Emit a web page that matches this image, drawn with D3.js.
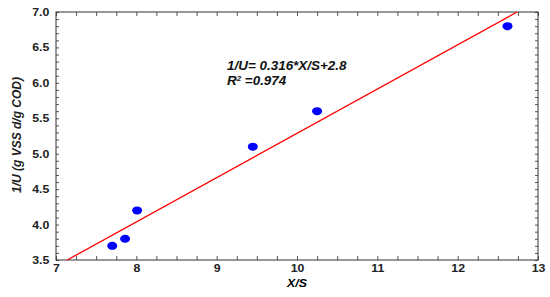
<!DOCTYPE html>
<html>
<head>
<meta charset="utf-8">
<script src="https://cdn.jsdelivr.net/npm/d3@7"></script>
<style>
  body { margin: 0; background: #fff; }
  text { font-family: "Liberation Sans", Arial, sans-serif; }
</style>
</head>
<body>
<div id="chart"></div>
<script>
// data
const xs = [7.70, 7.86, 8.01, 9.45, 10.25, 12.62];
const ys = [3.70, 3.80, 4.20, 5.10, 5.60, 6.80];
const fitX = [7.14, 12.74];
const fitY = [3.5, 7.0];
const xTicks = [7, 8, 9, 10, 11, 12, 13];
const yTicks = [3.5, 4.0, 4.5, 5.0, 5.5, 6.0, 6.5, 7.0];

const W = 550, H = 297;
const margin = { top: 12, right: 12, bottom: 37, left: 56 };
const width = W - margin.left - margin.right;
const height = H - margin.top - margin.bottom;
const stretch = 1.12; // the picture is a bit wider than tall

const svg = d3.select("#chart").append("svg")
  .attr("width", W).attr("height", H);
const g = svg.append("g").attr("transform", `translate(${margin.left},${margin.top})`);

const x = d3.scaleLinear().domain([7, 13]).range([0, width]);
const y = d3.scaleLinear().domain([3.5, 7.0]).range([height, 0]);

const xMinor = d3.range(7, 13.001, 0.25);
const yMinor = d3.range(3.5, 7.001, 0.1);

// bottom labels
g.append("g").attr("transform", `translate(0,${height})`)
  .call(d3.axisBottom(x).tickValues(xTicks).tickFormat(d3.format("d")).tickSizeInner(0).tickSizeOuter(0).tickPadding(4))
  .call(a => a.select(".domain").remove())
  .selectAll("text")
    .style("font-size", "11px").style("font-weight", "bold").attr("fill", "#222")
    .attr("transform", `scale(${stretch},1)`);

// minor ticks on all four sides, pointing inward
g.append("g").attr("transform", `translate(0,${height})`)
  .call(d3.axisBottom(x).tickValues(xMinor).tickFormat("").tickSizeInner(-4).tickSizeOuter(0))
  .call(a => a.select(".domain").remove())
  .selectAll("line").attr("stroke", "#555");
g.append("g")
  .call(d3.axisTop(x).tickValues(xMinor).tickFormat("").tickSizeInner(-4).tickSizeOuter(0))
  .call(a => a.select(".domain").remove())
  .selectAll("line").attr("stroke", "#555");

// left labels
g.append("g")
  .call(d3.axisLeft(y).tickValues(yTicks).tickFormat(d3.format(".1f")).tickSizeInner(0).tickSizeOuter(0).tickPadding(6))
  .call(a => a.select(".domain").remove())
  .selectAll("text")
    .style("font-size", "11px").style("font-weight", "bold").attr("fill", "#222")
    .attr("transform", `scale(${stretch},1)`);

g.append("g")
  .call(d3.axisLeft(y).tickValues(yMinor).tickFormat("").tickSizeInner(-3).tickSizeOuter(0))
  .call(a => a.select(".domain").remove())
  .selectAll("line").attr("stroke", "#555");
g.append("g").attr("transform", `translate(${width},0)`)
  .call(d3.axisRight(y).tickValues(yMinor).tickFormat("").tickSizeInner(-3).tickSizeOuter(0))
  .call(a => a.select(".domain").remove())
  .selectAll("line").attr("stroke", "#555");

// frame
g.append("rect")
  .attr("width", width).attr("height", height)
  .attr("fill", "none").attr("stroke", "#333").attr("stroke-width", 1);

// fitted line
const fit = fitX.map((d, i) => [d, fitY[i]]);
g.append("path")
  .datum(fit)
  .attr("fill", "none")
  .attr("stroke", "#ff0000")
  .attr("stroke-width", 1.3)
  .attr("d", d3.line().x(d => x(d[0])).y(d => y(d[1])));

// points
g.selectAll(".pt")
  .data(xs.map((d, i) => [d, ys[i]]))
  .join("ellipse")
  .attr("class", "pt")
  .attr("cx", d => x(d[0]))
  .attr("cy", d => y(d[1]))
  .attr("rx", 5)
  .attr("ry", 4)
  .attr("fill", "#0000ff");

// equation
const eqStyle = t => t
  .style("font-size", "12px").style("font-weight", "bold").style("font-style", "italic")
  .attr("fill", "#111");

svg.append("text")
  .attr("transform", `translate(227,70) scale(${stretch},1)`)
  .call(eqStyle)
  .text("1/U= 0.316*X/S+2.8");

const r2 = svg.append("text")
  .attr("transform", `translate(227,85) scale(${stretch},1)`)
  .call(eqStyle);
r2.append("tspan").text("R");
r2.append("tspan").attr("dy", -4).style("font-size", "7px").text("2");
r2.append("tspan").attr("dy", 4).text(" =0.974");

// axis titles
svg.append("text")
  .attr("transform", `translate(297,287) scale(${stretch},1)`)
  .attr("text-anchor", "middle")
  .style("font-size", "11px").style("font-weight", "bold").style("font-style", "italic")
  .text("X/S");

svg.append("text")
  .attr("transform", `translate(21,135) rotate(-90)`)
  .attr("text-anchor", "middle")
  .style("font-family", "'Liberation Sans Narrow', 'Liberation Sans', sans-serif")
  .style("font-size", "12px").style("font-weight", "bold").style("font-style", "italic")
  .attr("fill", "#222")
  .text("1/U (g VSS d/g COD)");
</script>
</body>
</html>
